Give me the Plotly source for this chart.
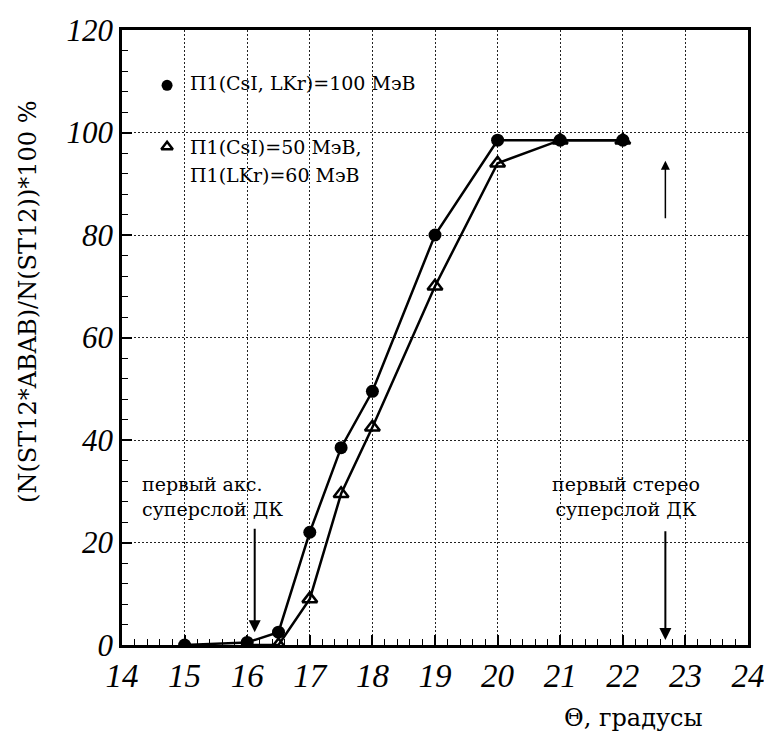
import plotly.graph_objects as go

theta_a = [15, 16, 16.5, 17, 17.5, 18, 19, 20, 21, 22]
eff_a = [0, 0.5, 2.5, 22, 38.5, 49.5, 80, 98.5, 98.5, 98.5]

theta_b = [16, 16.5, 17, 17.5, 18, 19, 20, 21, 22]
eff_b = [0, 0, 9, 29.5, 42.5, 70, 94, 98.5, 98.5]

x_ticks = list(range(14, 25))
y_ticks = list(range(0, 121, 20))

label_a = "П1(CsI, LKr)=100 МэВ"
label_b1 = "П1(CsI)=50 МэВ,"
label_b2 = "П1(LKr)=60 МэВ"

serif = "Liberation Serif"
txt = "DejaVu Serif"

fig = go.Figure()
fig.add_trace(go.Scatter(x=theta_a, y=eff_a, mode="lines+markers",
                         line=dict(color="black", width=2.5),
                         marker=dict(symbol="circle", size=13, color="black"),
                         showlegend=False))
fig.add_trace(go.Scatter(x=theta_b, y=eff_b, mode="lines+markers",
                         line=dict(color="black", width=2.5),
                         marker=dict(symbol="triangle-up-open", size=13, color="black",
                                     line=dict(width=2.5)),
                         showlegend=False))

# legend glyphs on an overlay axis in [0,1] coordinates
fig.add_trace(go.Scatter(x=[0.072], y=[0.91], xaxis="x2", yaxis="y2", mode="markers",
                         marker=dict(symbol="circle", size=11, color="black"),
                         showlegend=False, hoverinfo="skip"))
fig.add_trace(go.Scatter(x=[0.072], y=[0.81], xaxis="x2", yaxis="y2", mode="markers",
                         marker=dict(symbol="triangle-up-open", size=10, color="black",
                                     line=dict(width=2.5)),
                         showlegend=False, hoverinfo="skip"))

grid = dict(showgrid=True, gridcolor="#222", gridwidth=1.3, griddash="2px,2px")

fig.update_layout(
    width=764, height=738,
    margin=dict(l=122, r=16, t=30, b=93),
    plot_bgcolor="white", paper_bgcolor="white",
    font=dict(family=txt, color="black"),
    xaxis=dict(range=[14, 24], tickmode="array", tickvals=x_ticks,
               ticktext=[str(v) for v in x_ticks],
               ticks="inside", ticklen=10, tickwidth=1.5, tickcolor="black",
               minor=dict(dtick=0.2, ticks="inside", ticklen=6, tickcolor="black", tickwidth=1),
               showline=True, linecolor="black", linewidth=2.5, mirror=True,
               tickfont=dict(family=serif, size=33, style="italic"),
               ticklabeloverflow="allow", automargin=False,
               zeroline=False, **grid),
    yaxis=dict(range=[0, 120], tickmode="array", tickvals=y_ticks,
               ticktext=[str(v) for v in y_ticks],
               ticks="inside", ticklen=10, tickwidth=1.5, tickcolor="black",
               minor=dict(dtick=4, ticks="inside", ticklen=6, tickcolor="black", tickwidth=1),
               showline=True, linecolor="black", linewidth=2.5, mirror=True,
               tickfont=dict(family=serif, size=31, style="italic"),
               ticklabeloverflow="allow", automargin=False,
               zeroline=False, **grid),
    xaxis2=dict(range=[0, 1], overlaying="x", visible=False, fixedrange=True, automargin=False),
    yaxis2=dict(range=[0, 1], overlaying="y", visible=False, fixedrange=True, automargin=False),
)

ann_font = dict(family=txt, size=19, color="black")
fig.add_annotation(text="(N(ST12*ABAB)/N(ST12))*100 %", xref="paper", yref="paper",
                   x=-0.150, y=0.558, textangle=-90, showarrow=False,
                   xanchor="center", yanchor="middle",
                   font=dict(family=txt, size=24, color="black"))
fig.add_annotation(text="Θ, градусы", xref="paper", yref="paper", x=0.931, y=-0.119,
                   showarrow=False, xanchor="right", yanchor="middle",
                   font=dict(family=txt, size=24, color="black"))

fig.add_annotation(text=label_a, xref="paper", yref="paper", x=0.105, y=0.914,
                   showarrow=False, xanchor="left", yanchor="middle", font=ann_font)
fig.add_annotation(text=label_b1, xref="paper", yref="paper", x=0.105, y=0.810,
                   showarrow=False, xanchor="left", yanchor="middle", font=ann_font)
fig.add_annotation(text=label_b2, xref="paper", yref="paper", x=0.105, y=0.765,
                   showarrow=False, xanchor="left", yanchor="middle", font=ann_font)

fig.add_annotation(text="первый акс.<br>суперслой ДК", xref="x", yref="y",
                   x=14.28, y=24.0, showarrow=False, xanchor="left", yanchor="bottom",
                   align="left", font=ann_font)
fig.add_annotation(text="первый стерео<br>суперслой ДК", xref="x", yref="y",
                   x=22.05, y=24.0, showarrow=False, xanchor="center", yanchor="bottom",
                   align="center", font=ann_font)

# arrows
fig.add_annotation(x=16.12, y=2.5, ax=16.12, ay=23.0, xref="x", yref="y", axref="x", ayref="y",
                   text="", showarrow=True, arrowhead=2, arrowsize=1.2, arrowwidth=2, arrowcolor="black")
fig.add_annotation(x=22.68, y=1.0, ax=22.68, ay=22.5, xref="x", yref="y", axref="x", ayref="y",
                   text="", showarrow=True, arrowhead=2, arrowsize=1.2, arrowwidth=2, arrowcolor="black")
fig.add_annotation(x=22.68, y=94.5, ax=22.68, ay=83.0, xref="x", yref="y", axref="x", ayref="y",
                   text="", showarrow=True, arrowhead=2, arrowsize=1.2, arrowwidth=1.5, arrowcolor="black")

fig.write_html("out.html")
